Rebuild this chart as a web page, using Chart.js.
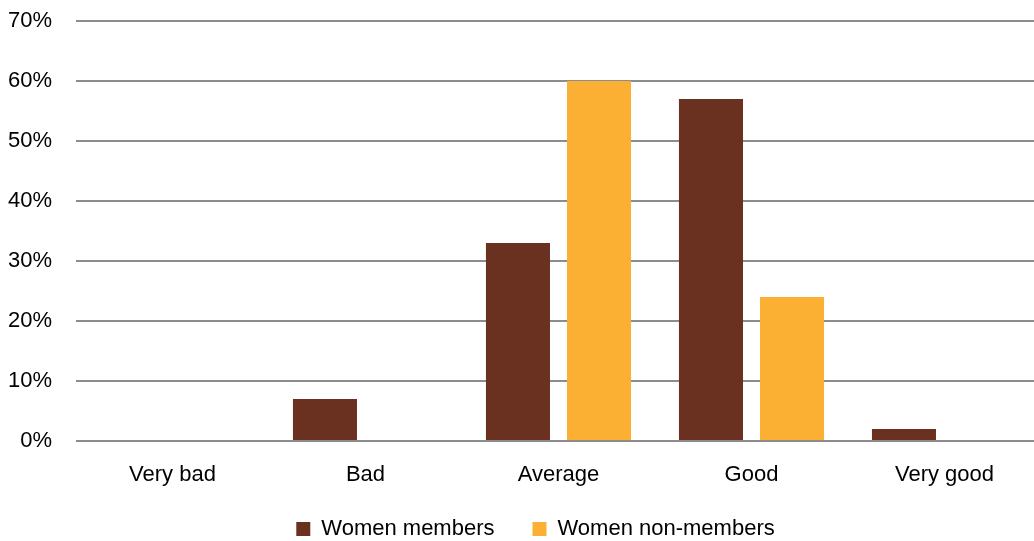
<!DOCTYPE html>
<html>
<head>
<meta charset="utf-8">
<script src="https://cdn.jsdelivr.net/npm/chart.js@4"></script>
<style>
  html, body { margin: 0; padding: 0; background: #fff; overflow: hidden; }
  #wrap { width: 1041px; height: 541px; }
</style>
</head>
<body>
<div id="wrap"><canvas id="grafico"></canvas></div>
<script>
// Categorias e valores (em %)
var categorias = ['Very bad', 'Bad', 'Average', 'Good', 'Very good'];
var membros = [0, 7, 33, 57, 2];
var naoMembros = [0, 0, 60, 24, 0];

var fonte = "'Liberation Sans Narrow', 'Arial Narrow', 'Liberation Sans', Arial, sans-serif";

// Ajusta a posição da legenda depois do layout
var ajustaLegenda = {
  id: 'ajustaLegenda',
  afterLayout: function (chart) {
    chart.legend.left += 30;
    chart.legend.top -= 9;
  }
};

var ctx = document.getElementById('grafico').getContext('2d');
var grafico = new Chart(ctx, {
  type: 'bar',
  data: {
    labels: categorias,
    datasets: [{
      label: 'Women members',
      data: membros,
      backgroundColor: '#6B3120'
    }, {
      label: 'Women non-members',
      data: naoMembros,
      backgroundColor: '#FBB034'
    }]
  },
  plugins: [ajustaLegenda],
  options: {
    responsive: true,
    maintainAspectRatio: false,
    animation: false,
    categoryPercentage: 0.84,
    barPercentage: 0.79,
    layout: { padding: { top: 21, right: 0, left: 0, bottom: -18 } },
    plugins: {
      tooltip: { enabled: false },
      legend: {
        position: 'bottom',
        labels: {
          color: '#000',
          font: { family: fonte, size: 22 },
          boxWidth: 14,
          boxHeight: 14,
          padding: 38
        }
      }
    },
    scales: {
      x: {
        grid: { display: false, drawTicks: false },
        border: { display: false },
        ticks: { color: '#000', font: { family: fonte, size: 22 }, padding: 21 },
        afterFit: function (eixo) { eixo.height = 48; }
      },
      y: {
        min: 0,
        max: 70,
        grid: { color: '#8C8C8C', lineWidth: 2, drawTicks: true, tickLength: 17, tickColor: 'rgba(0,0,0,0)' },
        border: { display: false },
        ticks: {
          stepSize: 10,
          color: '#000',
          font: { family: fonte, size: 22 },
          padding: 7,
          callback: function (v) { return v + '%'; }
        },
        afterFit: function (eixo) { eixo.width = 76; }
      }
    }
  }
});
</script>
</body>
</html>
